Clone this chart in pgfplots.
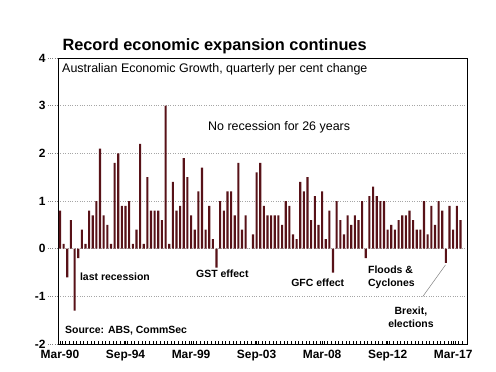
\documentclass[border=0pt]{standalone}
\usepackage{fontspec}
\setmainfont{Liberation Sans}
\usepackage{pgfplots}
\pgfplotsset{compat=1.18}
\definecolor{barc}{RGB}{88,18,24}
\pgfplotstableread{
x y
1 0.8
2 0.1
3 -0.6
4 0.6
5 -1.3
6 -0.2
7 0.4
8 0.1
9 0.8
10 0.7
11 1.0
12 2.1
13 0.7
14 0.5
15 0.1
16 1.8
17 2.0
18 0.9
19 0.9
20 1.0
21 0.1
22 0.4
23 2.2
24 0.1
25 1.5
26 0.8
27 0.8
28 0.8
29 0.6
30 3.0
31 0.1
32 1.4
33 0.8
34 0.9
35 1.9
36 1.5
37 0.7
38 0.4
39 1.2
40 1.7
41 0.4
42 0.9
43 0.2
44 -0.4
45 1.0
46 0.8
47 1.2
48 1.2
49 0.7
50 1.8
51 0.4
52 0.7
53 0.0
54 0.3
55 1.6
56 1.8
57 0.9
58 0.7
59 0.7
60 0.7
61 0.7
62 0.5
63 1.0
64 0.9
65 0.3
66 0.2
67 1.4
68 1.2
69 1.5
70 0.6
71 1.1
72 0.5
73 1.2
74 0.2
75 0.8
76 -0.5
77 1.0
78 0.6
79 0.3
80 0.7
81 0.5
82 0.7
83 0.6
84 1.0
85 -0.2
86 1.1
87 1.3
88 1.1
89 1.0
90 1.0
91 0.4
92 0.5
93 0.4
94 0.6
95 0.7
96 0.7
97 0.8
98 0.6
99 0.4
100 0.4
101 1.0
102 0.3
103 0.9
104 0.5
105 1.0
106 0.8
107 -0.3
108 0.9
109 0.4
110 0.9
111 0.6
}\gdp
\begin{document}
\begin{tikzpicture}
\path[use as bounding box] (-58bp,-28bp) rectangle (438bp,344bp);
\begin{axis}[
  at={(0,0)}, anchor=south west,
  scale only axis, width=409bp, height=286bp,
  xmin=0.45, xmax=112.8, ymin=-2, ymax=4,
  ytick={-2,-1,0,1,2,3,4},
  xtick={1,19,37,55,73,91,109},
  xticklabels={Mar-90,Sep-94,Mar-99,Sep-03,Mar-08,Sep-12,Mar-17},
  minor xtick={0.5,1.5,...,111.5},
  xtick pos=bottom, ytick pos=left,
  tick align=inside,
  major tick length=3bp, minor tick length=3bp,
  x tick style={black, line width=0.4pt},
  y tick style={gray, dotted, line width=0.6pt, /pgfplots/major tick length=10bp, xshift=-10bp},
  ymajorgrids,
  major grid style={gray!70, dotted, line width=0.6pt},
  axis line style={black, line width=0.8pt},
  tick label style={font=\fontsize{12}{14}\selectfont\bfseries},
  yticklabel style={xshift=-9bp},
  xticklabel style={yshift=-3bp},
  /pgf/number format/assume math mode=true,
  clip=false,
]
\addplot[ybar, bar width=0.58, fill=barc, draw=none] table[x=x, y=y] {\gdp};
\node[anchor=base west, font=\fontsize{16.4}{19}\selectfont\bfseries] at ([shift={(1bp,8bp)}]rel axis cs:0,1) {Record economic expansion continues};
\node[anchor=base west, inner sep=0pt, font=\fontsize{12.5}{14}\selectfont] at ([shift={(4bp,-14.5bp)}]rel axis cs:0,1) {Australian Economic Growth, quarterly per cent change};
\node[font=\fontsize{12.5}{14}\selectfont] at (axis cs:61.2,2.54) {No recession for 26 years};
\begin{scope}[every node/.style={font=\fontsize{10.5}{13.5}\selectfont\bfseries, inner sep=0pt}]
\node at (axis cs:16.1,-0.595) {last recession};
\node at (axis cs:45.6,-0.53) {GST effect};
\node at (axis cs:71.8,-0.71) {GFC effect};
\node[anchor=west, align=left] at (axis cs:85.6,-0.60) {Floods \&\\Cyclones};
\node[align=center] at (axis cs:97.4,-1.44) {Brexit,\\elections};
\node[anchor=west] at (axis cs:2.37,-1.72) {Source: ABS, CommSec};
\end{scope}
\draw[gray, line width=0.5pt] (axis cs:100.6,-1.01) -- (axis cs:106.9,-0.34);
\end{axis}
\end{tikzpicture}
\end{document}
